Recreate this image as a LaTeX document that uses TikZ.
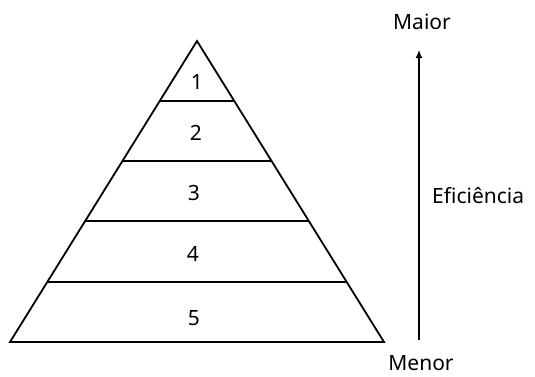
\documentclass[tikz,border=0pt]{standalone}
\usepackage{fontspec}
\setmainfont{Noto Sans}
\usetikzlibrary{arrows.meta}
\begin{document}
\begin{tikzpicture}[x=1pt,y=-1pt,
  edge/.style={line width=1.8pt, line join=miter},
  lbl/.style={font=\fontsize{21}{25}\selectfont, inner sep=0pt},
  axis/.style={line width=1.4pt, -{Latex[length=8pt,width=7pt]}}]
\useasboundingbox (0,0) rectangle (535,376);
% pyramid outline
\coordinate (apex) at (197,41);
\coordinate (bl) at (10,342);
\coordinate (br) at (384,342);
\draw[edge] (apex) -- (bl) -- (br) -- cycle;
% layer lines
\draw[edge] (160,101) -- (234,101);
\draw[edge] (122.5,161) -- (271.5,161);
\draw[edge] (85,221) -- (309,221);
\draw[edge] (47,282) -- (347,282);
% numbers
\node[lbl] (n1) at (197,82) {1};
\node[lbl] (n2) at (196,133) {2};
\node[lbl] (n3) at (194,193) {3};
\node[lbl] (n4) at (193,254) {4};
\node[lbl] (n5) at (194,318) {5};
% axis
\node[lbl] (maior) at (422,22) {Maior};
\node[lbl, anchor=base] (menor) at (421,370) {Menor};
\node[lbl, anchor=west] (efic) at (432,196) {Eficiência};
\coordinate (ab) at (419,340);
\coordinate (at) at (419,50);
\draw[axis] (ab) -- (at);
\end{tikzpicture}
\end{document}
